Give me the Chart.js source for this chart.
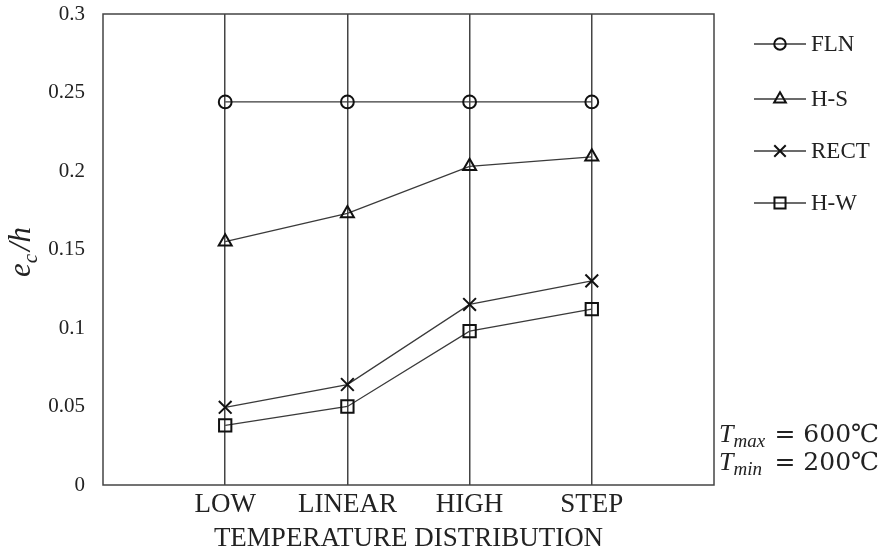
<!DOCTYPE html>
<html>
<head>
<meta charset="utf-8">
<script src="https://cdn.jsdelivr.net/npm/chart.js@4.4.1/dist/chart.umd.min.js"></script>
<style>
  html, body { margin: 0; padding: 0; background: #fff; }
  #wrap { width: 885px; height: 555px; }
</style>
</head>
<body>
<div id="wrap"><canvas id="c" width="885" height="555"></canvas></div>
<script>
// Eccentricity ratio e_c/h for each temperature distribution
const categories = ['LOW', 'LINEAR', 'HIGH', 'STEP'];
const seriesNames = ['FLN', 'H-S', 'RECT', 'H-W'];
const fln  = [0.244, 0.244, 0.244, 0.244];
const hs   = [0.155, 0.173, 0.203, 0.209];
const rect = [0.0495, 0.064, 0.115, 0.130];
const hw   = [0.038, 0.050, 0.098, 0.112];
const yTicks = [0, 0.05, 0.1, 0.15, 0.2, 0.25, 0.3];
const yTickLabels = ['0', '0.05', '0.1', '0.15', '0.2', '0.25', '0.3'];
const tMax = 600;
const tMin = 200;

const SERIF = '"Liberation Serif", "Times New Roman", serif';
const INK = '#222';
const LINE = '#3a3a3a';

const styles = [
  { pointStyle: 'circle',   radius: 6.4 },
  { pointStyle: 'triangle', radius: 7.5 },
  { pointStyle: 'crossRot', radius: 9 },
  { pointStyle: 'rect',     radius: 8.7 }
];
const seriesValues = [fln, hs, rect, hw];

const datasets = seriesValues.map((vals, i) => ({
  label: seriesNames[i],
  data: vals.map((v, j) => ({ x: j + 1, y: v })),
  borderColor: LINE,
  borderWidth: 1.3,
  pointStyle: styles[i].pointStyle,
  pointRadius: styles[i].radius,
  pointHoverRadius: styles[i].radius,
  pointBorderWidth: 2,
  pointBorderColor: '#111',
  pointBackgroundColor: 'rgba(0,0,0,0)',
  tension: 0,
  clip: false
}));

// Plot frame around the chart area
const framePlugin = {
  id: 'frame',
  afterDraw(chart) {
    const { ctx, chartArea: a } = chart;
    ctx.save();
    ctx.strokeStyle = '#444';
    ctx.lineWidth = 1.5;
    ctx.strokeRect(a.left, a.top, a.right - a.left, a.bottom - a.top);
    ctx.restore();
  }
};

// Legend: short line with the series marker, then the name
const lineLegendPlugin = {
  id: 'lineLegend',
  afterDraw(chart) {
    const { ctx } = chart;
    const x0 = 754, x1 = 806, ys = [44, 99, 151, 203];
    ctx.save();
    chart.data.datasets.forEach((ds, i) => {
      const y = ys[i];
      ctx.strokeStyle = LINE;
      ctx.lineWidth = 1.3;
      ctx.beginPath();
      ctx.moveTo(x0, y);
      ctx.lineTo(x1, y);
      ctx.stroke();
      ctx.strokeStyle = '#111';
      ctx.fillStyle = 'rgba(0,0,0,0)';
      ctx.lineWidth = 2;
      Chart.helpers.drawPoint(ctx, {
        pointStyle: ds.pointStyle,
        radius: ds.pointRadius * 0.9,
        rotation: 0,
        borderWidth: 2
      }, (x0 + x1) / 2, y);
      ctx.fillStyle = INK;
      ctx.font = '23px ' + SERIF;
      ctx.textAlign = 'left';
      ctx.textBaseline = 'middle';
      ctx.fillText(ds.label, 811, y + 1);
    });
    ctx.restore();
  }
};

// Draws "base" then a lowered subscript, returns the advance
function drawSub(ctx, x, y, base, sub, baseFont, subFont, drop) {
  ctx.font = baseFont;
  ctx.fillText(base, x, y);
  let w = ctx.measureText(base).width;
  ctx.font = subFont;
  ctx.fillText(sub, x + w, y + drop);
  w += ctx.measureText(sub).width;
  return w;
}

// Y-axis title e_c/h and the temperature note
const mathTextPlugin = {
  id: 'mathText',
  afterDraw(chart) {
    const { ctx } = chart;
    ctx.save();
    ctx.fillStyle = INK;
    ctx.textBaseline = 'alphabetic';
    ctx.textAlign = 'left';

    // rotated axis title
    const big = 'italic 31px ' + SERIF;
    const small = 'italic 21px ' + SERIF;
    ctx.font = big;
    const wE = ctx.measureText('e').width;
    const wS = ctx.measureText('/h').width;
    ctx.font = small;
    const wC = ctx.measureText('c').width;
    const total = wE + wC + 3 + wS;
    ctx.translate(30, 252);
    ctx.rotate(-Math.PI / 2);
    let x = -total / 2;
    x += drawSub(ctx, x, 0, 'e', 'c', big, small, 7) + 3;
    ctx.font = big;
    ctx.fillText('/h', x, 0);
    ctx.setTransform(1, 0, 0, 1, 0, 0);

    // temperature note
    const tFont = 'italic 26px ' + SERIF;
    const subFont = 'italic 19px ' + SERIF;
    const eqFont = '25px "DejaVu Serif", ' + SERIF;
    const notes = [['max', tMax, 442], ['min', tMin, 470]];
    notes.forEach(([sub, val, base]) => {
      let nx = 719;
      nx += drawSub(ctx, nx, base, 'T', sub, tFont, subFont, 5);
      ctx.font = eqFont;
      ctx.textAlign = 'right';
      ctx.fillText('= ' + val + '℃', 879, base);
      ctx.textAlign = 'left';
    });
    ctx.restore();
  }
};

new Chart(document.getElementById('c'), {
  type: 'line',
  data: { datasets },
  options: {
    responsive: false,
    animation: false,
    devicePixelRatio: 1,
    layout: { padding: { left: 0, top: 14, right: 171, bottom: 0 } },
    plugins: {
      legend: { display: false },
      tooltip: { enabled: false }
    },
    scales: {
      x: {
        type: 'linear',
        min: 0,
        max: categories.length + 1,
        afterFit(s) {
          s.height = 70;
          s.paddingLeft = 0;
          s.paddingRight = 0;
        },
        afterBuildTicks(s) {
          s.ticks = [0, 1, 2, 3, 4, 5].map(v => ({ value: v }));
        },
        ticks: {
          autoSkip: false,
          maxRotation: 0,
          padding: 4,
          color: INK,
          font: { family: SERIF, size: 27 },
          callback: v => categories[v - 1] || ''
        },
        grid: {
          drawTicks: false,
          lineWidth: 1.5,
          color: c => (c.tick && c.tick.value >= 1 && c.tick.value <= categories.length) ? '#444' : 'rgba(0,0,0,0)'
        },
        border: { display: false },
        title: {
          display: true,
          text: 'TEMPERATURE DISTRIBUTION',
          color: INK,
          font: { family: SERIF, size: 27 },
          padding: 0
        }
      },
      y: {
        min: 0,
        max: 0.3,
        afterFit(s) {
          s.width = 103;
          s.paddingTop = 0;
          s.paddingBottom = 0;
        },
        afterBuildTicks(s) {
          s.ticks = yTicks.map(v => ({ value: v }));
        },
        ticks: {
          padding: 18,
          color: INK,
          font: { family: SERIF, size: 21 },
          callback: v => yTickLabels[yTicks.findIndex(t => Math.abs(t - v) < 1e-9)]
        },
        grid: { display: false, drawTicks: false },
        border: { display: false }
      }
    }
  },
  plugins: [framePlugin, lineLegendPlugin, mathTextPlugin]
});
</script>
</body>
</html>
